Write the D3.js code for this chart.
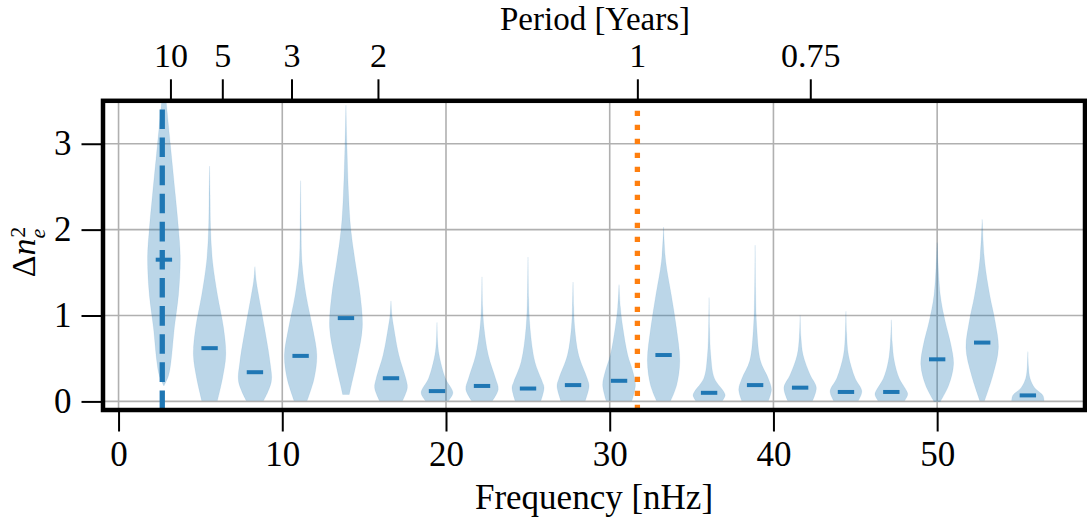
<!DOCTYPE html>
<html><head><meta charset="utf-8">
<script src="https://cdn.jsdelivr.net/npm/d3@7"></script>
<style>
html,body{margin:0;padding:0;background:#fff;}
svg{display:block;}
</style></head>
<body>
<svg id="chart" width="1087" height="519"></svg>
<script>
// ---------- data ----------
const frequencies = [2.77, 5.56, 8.33, 11.12, 13.89, 16.64, 19.45, 22.20, 25.01, 27.76,
                     30.57, 33.29, 36.07, 38.88, 41.63, 44.43, 47.20, 50.00, 52.75, 55.54];
const medians = [1.65, 0.62, 0.34, 0.53, 0.97, 0.27, 0.12, 0.18, 0.15, 0.19,
                 0.24, 0.54, 0.10, 0.19, 0.16, 0.11, 0.11, 0.49, 0.685, 0.07];
// violin profiles: [value, relative width]
const profiles = [
  [[0.18,0],[0.30,0.28],[0.46,0.43],[0.86,0.64],[1.24,0.89],[1.67,1.0],[2.01,0.89],[2.40,0.70],[2.98,0.40],[3.47,0.15],[3.7,0.04]],
  [[0.01,0.48],[0.27,0.79],[0.54,0.99],[0.86,0.85],[1.24,0.48],[1.63,0.18],[2.01,0.06],[2.40,0.03],[2.74,0]],
  [[0.01,0.53],[0.23,1.0],[0.46,0.92],[0.86,0.58],[1.24,0.22],[1.40,0.08],[1.57,0]],
  [[0.01,0.40],[0.27,0.83],[0.54,0.99],[0.86,0.73],[1.24,0.33],[1.63,0.08],[2.10,0.03],[2.57,0]],
  [[0.08,0.20],[0.19,0.33],[0.47,0.66],[0.86,1.0],[1.24,0.87],[1.63,0.56],[2.01,0.29],[2.40,0.16],[2.98,0.06],[3.45,0]],
  [[0.01,0.71],[0.16,1.0],[0.27,0.90],[0.54,0.48],[0.86,0.17],[1.00,0.06],[1.17,0]],
  [[0.01,0.71],[0.10,0.97],[0.27,0.51],[0.54,0.13],[0.70,0.04],[0.92,0]],
  [[0.01,0.64],[0.14,0.99],[0.27,0.82],[0.54,0.38],[0.86,0.12],[1.10,0.04],[1.45,0]],
  [[0.01,0.79],[0.16,0.98],[0.23,0.87],[0.46,0.42],[0.86,0.12],[1.20,0.04],[1.68,0]],
  [[0.01,0.75],[0.18,0.98],[0.27,0.86],[0.54,0.34],[0.86,0.10],[1.10,0.04],[1.39,0]],
  [[0.01,0.79],[0.19,1.0],[0.35,0.84],[0.54,0.53],[0.86,0.23],[1.10,0.08],[1.36,0]],
  [[0.01,0.44],[0.19,0.80],[0.47,0.99],[0.86,0.78],[1.24,0.47],[1.63,0.13],[2.03,0]],
  [[0.01,0.82],[0.07,0.98],[0.12,0.87],[0.27,0.32],[0.54,0.10],[0.85,0.03],[1.21,0]],
  [[0.01,0.82],[0.14,1.0],[0.27,0.80],[0.47,0.33],[0.86,0.10],[1.30,0.03],[1.82,0]],
  [[0.01,0.76],[0.16,0.99],[0.31,0.61],[0.54,0.18],[0.75,0.05],[1.00,0]],
  [[0.01,0.76],[0.12,0.97],[0.27,0.56],[0.54,0.15],[0.80,0.04],[1.05,0]],
  [[0.01,0.82],[0.08,1.0],[0.12,0.94],[0.27,0.48],[0.47,0.18],[0.70,0.05],[0.95,0]],
  [[0.00,0.20],[0.19,0.71],[0.43,1.0],[0.66,0.84],[0.93,0.49],[1.24,0.19],[1.85,0]],
  [[0.01,0.15],[0.31,0.66],[0.62,0.99],[0.93,0.79],[1.24,0.46],[1.63,0.15],[2.12,0]],
  [[0.01,0.99],[0.07,0.92],[0.16,0.41],[0.27,0.13],[0.40,0.04],[0.58,0]]
];
const xTicks = [0, 10, 20, 30, 40, 50];
const yTicks = [0, 1, 2, 3];
const periodTicks = [10, 5, 3, 2, 1, 0.75];
const periodLabels = ["10", "5", "3", "2", "1", "0.75"];
const injectedFrequency = 2.67;   // blue dashed line [nHz]
const yearFrequency = 31.69;      // orange dotted line [nHz]
const secondsPerYear = 3.15576e7;

// ---------- layout ----------
const svg = d3.select("#chart");
const L = 103, R = 1085, T = 100.8, B = 410;
const x = d3.scaleLinear().domain([-0.95, 59.03]).range([L, R]);
const y = d3.scaleLinear().domain([-0.1, 3.5]).range([B, T]);
const FONT = "Liberation Serif";
const violinWidth = 2.0; // nHz
const blue = "#1f77b4", orange = "#ff7f0e";

svg.append("defs").append("clipPath").attr("id","plotclip")
  .append("rect").attr("x",L).attr("y",T).attr("width",R-L).attr("height",B-T);

// grid
const grid = svg.append("g");
grid.selectAll("line.gx").data(xTicks).join("line")
  .attr("x1", d=>x(d)).attr("x2", d=>x(d)).attr("y1", T).attr("y2", B)
  .attr("stroke","#b0b0b0").attr("stroke-width",1.6);
grid.selectAll("line.gy").data(yTicks).join("line")
  .attr("y1", d=>y(d)).attr("y2", d=>y(d)).attr("x1", L).attr("x2", R)
  .attr("stroke","#b0b0b0").attr("stroke-width",1.6);

// violins
const plot = svg.append("g").attr("clip-path","url(#plotclip)");
const area = d3.area()
  .y(d=>y(d[0]))
  .curve(d3.curveCatmullRom.alpha(0.5));
profiles.forEach((prof, i) => {
  const f = frequencies[i];
  area.x0(d=>x(f - d[1]*violinWidth/2)).x1(d=>x(f + d[1]*violinWidth/2));
  plot.append("path").attr("d", area(prof))
    .attr("fill", blue).attr("fill-opacity", 0.3)
    .attr("stroke", blue).attr("stroke-opacity", 0.1).attr("stroke-width", 0.8);
});
// medians
plot.selectAll("line.med").data(medians).join("line")
  .attr("x1", (d,i)=>x(frequencies[i]-violinWidth/4))
  .attr("x2", (d,i)=>x(frequencies[i]+violinWidth/4))
  .attr("y1", d=>y(d)).attr("y2", d=>y(d))
  .attr("stroke", blue).attr("stroke-width", 4);

// vertical lines
plot.append("line").attr("x1", x(injectedFrequency)).attr("x2", x(injectedFrequency))
  .attr("y1", B).attr("y2", T).attr("stroke", blue).attr("stroke-width", 5.3)
  .attr("stroke-dasharray", "19.6 8.5");
plot.append("line").attr("x1", x(yearFrequency)).attr("x2", x(yearFrequency))
  .attr("y1", B).attr("y2", T).attr("stroke", orange).attr("stroke-width", 5.3)
  .attr("stroke-dasharray", "5.3 8.7");

// axes
function styleAxis(fs){
  return g => {
    g.attr("font-family", FONT).attr("font-size", fs);
    g.select(".domain").remove();
    g.selectAll(".tick line").attr("stroke","#000").attr("stroke-width",2);
    g.selectAll(".tick text").attr("fill","#000").style("font-family",FONT).style("font-size",fs+"px");
  };
}
svg.append("g").attr("transform",`translate(0,${B})`)
  .call(d3.axisBottom(x).tickValues(xTicks).tickSize(21.5).tickPadding(10).tickFormat(d3.format("d")))
  .call(styleAxis(35));
svg.append("g").attr("transform",`translate(${L},0)`)
  .call(d3.axisLeft(y).tickValues(yTicks).tickSize(21.5).tickPadding(10).tickFormat(d3.format("d")))
  .call(styleAxis(35));
const periodFreqs = periodTicks.map(p => 1e9/(p*secondsPerYear));
svg.append("g").attr("transform",`translate(0,${T})`)
  .call(d3.axisTop(x).tickValues(periodFreqs).tickSize(21.5).tickPadding(12.3)
        .tickFormat((d,i)=>periodLabels[i]))
  .call(styleAxis(34));

// frame
svg.append("rect").attr("x",L).attr("y",T).attr("width",R-L).attr("height",B-T)
  .attr("fill","none").attr("stroke","#000").attr("stroke-width",4.5);

// labels
svg.append("text").attr("x", 594).attr("y", 509).attr("text-anchor","middle")
  .style("font-family",FONT).style("font-size","35px").text("Frequency [nHz]");
svg.append("text").attr("x", 595).attr("y", 30).attr("text-anchor","middle")
  .style("font-family",FONT).style("font-size","33px").text("Period [Years]");
const yl = svg.append("text").attr("transform","translate(35,252) rotate(-90)")
  .attr("text-anchor","middle").style("font-family",FONT).style("font-size","34px");
yl.append("tspan").text("Δ");
yl.append("tspan").attr("font-style","italic").text("n");
yl.append("tspan").attr("font-style","italic").style("font-size","22px").attr("dy",10).text("e");
yl.append("tspan").style("font-size","22px").attr("dx",-9).attr("dy",-20).text("2");
</script>
</body></html>
